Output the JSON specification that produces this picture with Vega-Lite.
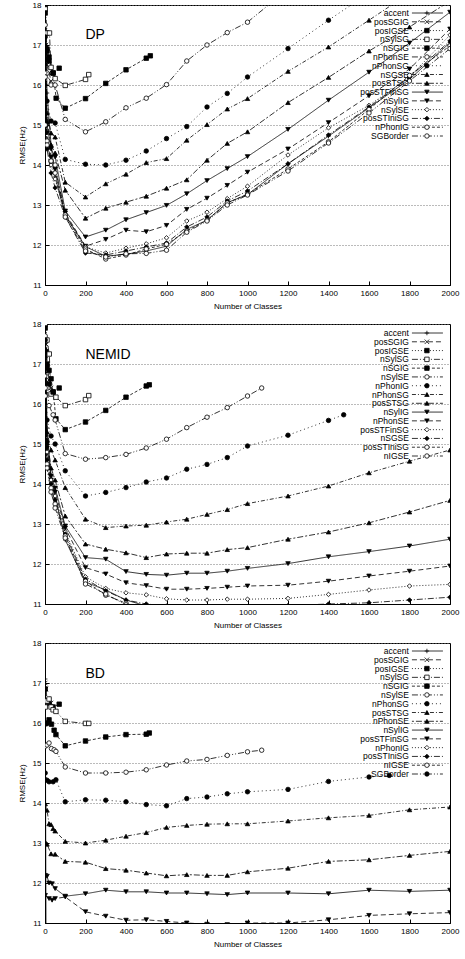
{
"$schema": "https://vega.github.io/schema/vega-lite/v6.json",
"padding": {"left": 17, "top": 0, "right": 4, "bottom": 2},
"config": {
  "font": "Liberation Sans",
  "view": {"stroke": "black", "strokeWidth": 1},
  "axis": {"labelFont": "Liberation Sans", "labelFontSize": 8, "titleFont": "Liberation Sans", "titleFontSize": 8, "titleFontWeight": "normal", "labelColor": "black", "titleColor": "black", "tickColor": "black", "tickSize": -4, "domainColor": "black", "labelPadding": 8, "labelFlush": false, "labelOverlap": false, "grid": false},
  "text": {"font": "Liberation Sans", "color": "black"}
},
"datasets": {"d": [
{"p":"DP","s":"accent","x":1,"y":18.2},{"p":"DP","s":"accent","x":10,"y":15.8},{"p":"DP","s":"accent","x":30,"y":14.5},{"p":"DP","s":"accent","x":50,"y":13.7},{"p":"DP","s":"accent","x":100,"y":12.75},{"p":"DP","s":"accent","x":200,"y":11.96},{"p":"DP","s":"accent","x":300,"y":11.72},{"p":"DP","s":"accent","x":400,"y":11.77},{"p":"DP","s":"accent","x":500,"y":11.85},{"p":"DP","s":"accent","x":600,"y":11.97},{"p":"DP","s":"accent","x":700,"y":12.39},{"p":"DP","s":"accent","x":800,"y":12.62},{"p":"DP","s":"accent","x":900,"y":13.06},{"p":"DP","s":"accent","x":1000,"y":13.26},{"p":"DP","s":"accent","x":1200,"y":14.03},{"p":"DP","s":"accent","x":1400,"y":14.72},{"p":"DP","s":"accent","x":1600,"y":15.43},{"p":"DP","s":"accent","x":1800,"y":16.14},{"p":"DP","s":"accent","x":2000,"y":17.06},
{"p":"DP","s":"posSGIG","x":1,"y":18.1},{"p":"DP","s":"posSGIG","x":5,"y":17.0},{"p":"DP","s":"posSGIG","x":10,"y":16.5},{"p":"DP","s":"posSGIG","x":20,"y":16.3},{"p":"DP","s":"posSGIG","x":30,"y":16.1},
{"p":"DP","s":"posIGSE","x":1,"y":18.0},{"p":"DP","s":"posIGSE","x":5,"y":17.3},{"p":"DP","s":"posIGSE","x":10,"y":16.9},{"p":"DP","s":"posIGSE","x":20,"y":16.6},{"p":"DP","s":"posIGSE","x":40,"y":16.3},{"p":"DP","s":"posIGSE","x":70,"y":16.42},
{"p":"DP","s":"nSylSG","x":1,"y":17.9},{"p":"DP","s":"nSylSG","x":10,"y":17.3},{"p":"DP","s":"nSylSG","x":22,"y":17.3},{"p":"DP","s":"nSylSG","x":30,"y":16.44},{"p":"DP","s":"nSylSG","x":50,"y":16.16},{"p":"DP","s":"nSylSG","x":100,"y":15.99},{"p":"DP","s":"nSylSG","x":200,"y":16.14},{"p":"DP","s":"nSylSG","x":216,"y":16.26},
{"p":"DP","s":"nSGIG","x":1,"y":17.8},{"p":"DP","s":"nSGIG","x":10,"y":16.85},{"p":"DP","s":"nSGIG","x":20,"y":16.7},{"p":"DP","s":"nSGIG","x":40,"y":16.3},{"p":"DP","s":"nSGIG","x":55,"y":15.67},{"p":"DP","s":"nSGIG","x":100,"y":15.42},{"p":"DP","s":"nSGIG","x":200,"y":15.66},{"p":"DP","s":"nSGIG","x":300,"y":16.04},{"p":"DP","s":"nSGIG","x":400,"y":16.38},{"p":"DP","s":"nSGIG","x":500,"y":16.67},{"p":"DP","s":"nSGIG","x":520,"y":16.73},
{"p":"DP","s":"nPhonSE","x":1,"y":17.5},{"p":"DP","s":"nPhonSE","x":10,"y":16.3},{"p":"DP","s":"nPhonSE","x":30,"y":16.0},{"p":"DP","s":"nPhonSE","x":50,"y":16.0},{"p":"DP","s":"nPhonSE","x":100,"y":15.14},{"p":"DP","s":"nPhonSE","x":200,"y":14.83},{"p":"DP","s":"nPhonSE","x":300,"y":15.08},{"p":"DP","s":"nPhonSE","x":400,"y":15.43},{"p":"DP","s":"nPhonSE","x":500,"y":15.67},{"p":"DP","s":"nPhonSE","x":600,"y":16.01},{"p":"DP","s":"nPhonSE","x":700,"y":16.6},{"p":"DP","s":"nPhonSE","x":800,"y":17.0},{"p":"DP","s":"nPhonSE","x":900,"y":17.31},{"p":"DP","s":"nPhonSE","x":1000,"y":17.57},{"p":"DP","s":"nPhonSE","x":1200,"y":18.4},
{"p":"DP","s":"nPhonSG","x":1,"y":17.2},{"p":"DP","s":"nPhonSG","x":10,"y":15.6},{"p":"DP","s":"nPhonSG","x":30,"y":15.1},{"p":"DP","s":"nPhonSG","x":50,"y":15.05},{"p":"DP","s":"nPhonSG","x":100,"y":14.14},{"p":"DP","s":"nPhonSG","x":200,"y":14.02},{"p":"DP","s":"nPhonSG","x":300,"y":14.0},{"p":"DP","s":"nPhonSG","x":400,"y":14.12},{"p":"DP","s":"nPhonSG","x":500,"y":14.35},{"p":"DP","s":"nPhonSG","x":600,"y":14.66},{"p":"DP","s":"nPhonSG","x":700,"y":14.96},{"p":"DP","s":"nPhonSG","x":800,"y":15.45},{"p":"DP","s":"nPhonSG","x":900,"y":15.79},{"p":"DP","s":"nPhonSG","x":1000,"y":16.2},{"p":"DP","s":"nPhonSG","x":1200,"y":16.91},{"p":"DP","s":"nPhonSG","x":1400,"y":17.62},{"p":"DP","s":"nPhonSG","x":1600,"y":18.3},
{"p":"DP","s":"nSGSE","x":1,"y":17.0},{"p":"DP","s":"nSGSE","x":10,"y":15.3},{"p":"DP","s":"nSGSE","x":30,"y":14.8},{"p":"DP","s":"nSGSE","x":50,"y":14.7},{"p":"DP","s":"nSGSE","x":100,"y":13.57},{"p":"DP","s":"nSGSE","x":200,"y":13.2},{"p":"DP","s":"nSGSE","x":300,"y":13.53},{"p":"DP","s":"nSGSE","x":400,"y":13.77},{"p":"DP","s":"nSGSE","x":500,"y":14.06},{"p":"DP","s":"nSGSE","x":600,"y":14.16},{"p":"DP","s":"nSGSE","x":700,"y":14.62},{"p":"DP","s":"nSGSE","x":800,"y":15.01},{"p":"DP","s":"nSGSE","x":900,"y":15.4},{"p":"DP","s":"nSGSE","x":1000,"y":15.66},{"p":"DP","s":"nSGSE","x":1200,"y":16.34},{"p":"DP","s":"nSGSE","x":1400,"y":16.95},{"p":"DP","s":"nSGSE","x":1600,"y":17.62},{"p":"DP","s":"nSGSE","x":1800,"y":18.3},
{"p":"DP","s":"posSTSG","x":1,"y":16.8},{"p":"DP","s":"posSTSG","x":10,"y":15.1},{"p":"DP","s":"posSTSG","x":30,"y":14.5},{"p":"DP","s":"posSTSG","x":50,"y":14.3},{"p":"DP","s":"posSTSG","x":100,"y":13.37},{"p":"DP","s":"posSTSG","x":200,"y":12.67},{"p":"DP","s":"posSTSG","x":300,"y":12.92},{"p":"DP","s":"posSTSG","x":400,"y":13.07},{"p":"DP","s":"posSTSG","x":500,"y":13.22},{"p":"DP","s":"posSTSG","x":600,"y":13.42},{"p":"DP","s":"posSTSG","x":700,"y":13.63},{"p":"DP","s":"posSTSG","x":800,"y":14.12},{"p":"DP","s":"posSTSG","x":900,"y":14.54},{"p":"DP","s":"posSTSG","x":1000,"y":14.83},{"p":"DP","s":"posSTSG","x":1200,"y":15.56},{"p":"DP","s":"posSTSG","x":1400,"y":16.19},{"p":"DP","s":"posSTSG","x":1600,"y":16.85},{"p":"DP","s":"posSTSG","x":1800,"y":17.45},{"p":"DP","s":"posSTSG","x":2000,"y":18.1},
{"p":"DP","s":"posSTFinSG","x":1,"y":16.6},{"p":"DP","s":"posSTFinSG","x":10,"y":15.0},{"p":"DP","s":"posSTFinSG","x":30,"y":14.4},{"p":"DP","s":"posSTFinSG","x":50,"y":14.2},{"p":"DP","s":"posSTFinSG","x":100,"y":12.85},{"p":"DP","s":"posSTFinSG","x":200,"y":12.2},{"p":"DP","s":"posSTFinSG","x":300,"y":12.37},{"p":"DP","s":"posSTFinSG","x":400,"y":12.63},{"p":"DP","s":"posSTFinSG","x":500,"y":12.81},{"p":"DP","s":"posSTFinSG","x":600,"y":12.99},{"p":"DP","s":"posSTFinSG","x":700,"y":13.28},{"p":"DP","s":"posSTFinSG","x":800,"y":13.61},{"p":"DP","s":"posSTFinSG","x":900,"y":13.91},{"p":"DP","s":"posSTFinSG","x":1000,"y":14.21},{"p":"DP","s":"posSTFinSG","x":1200,"y":14.89},{"p":"DP","s":"posSTFinSG","x":1400,"y":15.62},{"p":"DP","s":"posSTFinSG","x":1600,"y":16.32},{"p":"DP","s":"posSTFinSG","x":1800,"y":17.05},{"p":"DP","s":"posSTFinSG","x":2000,"y":17.82},
{"p":"DP","s":"nSylIG","x":1,"y":16.5},{"p":"DP","s":"nSylIG","x":10,"y":14.8},{"p":"DP","s":"nSylIG","x":30,"y":14.2},{"p":"DP","s":"nSylIG","x":50,"y":13.9},{"p":"DP","s":"nSylIG","x":100,"y":12.8},{"p":"DP","s":"nSylIG","x":200,"y":11.97},{"p":"DP","s":"nSylIG","x":300,"y":12.14},{"p":"DP","s":"nSylIG","x":400,"y":12.37},{"p":"DP","s":"nSylIG","x":500,"y":12.33},{"p":"DP","s":"nSylIG","x":600,"y":12.49},{"p":"DP","s":"nSylIG","x":700,"y":12.89},{"p":"DP","s":"nSylIG","x":800,"y":13.17},{"p":"DP","s":"nSylIG","x":900,"y":13.49},{"p":"DP","s":"nSylIG","x":1000,"y":13.82},{"p":"DP","s":"nSylIG","x":1200,"y":14.4},{"p":"DP","s":"nSylIG","x":1400,"y":15.06},{"p":"DP","s":"nSylIG","x":1600,"y":15.73},{"p":"DP","s":"nSylIG","x":1800,"y":16.4},{"p":"DP","s":"nSylIG","x":2000,"y":17.4},
{"p":"DP","s":"nSylSE","x":1,"y":16.3},{"p":"DP","s":"nSylSE","x":10,"y":14.6},{"p":"DP","s":"nSylSE","x":30,"y":14.0},{"p":"DP","s":"nSylSE","x":50,"y":13.65},{"p":"DP","s":"nSylSE","x":100,"y":12.75},{"p":"DP","s":"nSylSE","x":200,"y":11.95},{"p":"DP","s":"nSylSE","x":300,"y":11.8},{"p":"DP","s":"nSylSE","x":400,"y":11.92},{"p":"DP","s":"nSylSE","x":500,"y":12.03},{"p":"DP","s":"nSylSE","x":600,"y":12.18},{"p":"DP","s":"nSylSE","x":700,"y":12.6},{"p":"DP","s":"nSylSE","x":800,"y":12.82},{"p":"DP","s":"nSylSE","x":900,"y":13.16},{"p":"DP","s":"nSylSE","x":1000,"y":13.47},{"p":"DP","s":"nSylSE","x":1200,"y":14.25},{"p":"DP","s":"nSylSE","x":1400,"y":14.93},{"p":"DP","s":"nSylSE","x":1600,"y":15.49},{"p":"DP","s":"nSylSE","x":1800,"y":16.2},{"p":"DP","s":"nSylSE","x":2000,"y":17.25},
{"p":"DP","s":"posSTIniSG","x":1,"y":16.0},{"p":"DP","s":"posSTIniSG","x":10,"y":14.4},{"p":"DP","s":"posSTIniSG","x":30,"y":13.8},{"p":"DP","s":"posSTIniSG","x":50,"y":13.43},{"p":"DP","s":"posSTIniSG","x":100,"y":12.7},{"p":"DP","s":"posSTIniSG","x":200,"y":11.8},{"p":"DP","s":"posSTIniSG","x":300,"y":11.75},{"p":"DP","s":"posSTIniSG","x":400,"y":11.85},{"p":"DP","s":"posSTIniSG","x":500,"y":11.95},{"p":"DP","s":"posSTIniSG","x":600,"y":12.05},{"p":"DP","s":"posSTIniSG","x":700,"y":12.45},{"p":"DP","s":"posSTIniSG","x":800,"y":12.7},{"p":"DP","s":"posSTIniSG","x":900,"y":13.1},{"p":"DP","s":"posSTIniSG","x":1000,"y":13.35},{"p":"DP","s":"posSTIniSG","x":1200,"y":14.03},{"p":"DP","s":"posSTIniSG","x":1400,"y":14.75},{"p":"DP","s":"posSTIniSG","x":1600,"y":15.45},{"p":"DP","s":"posSTIniSG","x":1800,"y":16.2},{"p":"DP","s":"posSTIniSG","x":2000,"y":17.1},
{"p":"DP","s":"nPhonIG","x":1,"y":16.2},{"p":"DP","s":"nPhonIG","x":10,"y":14.6},{"p":"DP","s":"nPhonIG","x":30,"y":14.1},{"p":"DP","s":"nPhonIG","x":50,"y":13.8},{"p":"DP","s":"nPhonIG","x":100,"y":12.75},{"p":"DP","s":"nPhonIG","x":200,"y":11.9},{"p":"DP","s":"nPhonIG","x":300,"y":11.65},{"p":"DP","s":"nPhonIG","x":400,"y":11.75},{"p":"DP","s":"nPhonIG","x":500,"y":11.9},{"p":"DP","s":"nPhonIG","x":600,"y":12.02},{"p":"DP","s":"nPhonIG","x":700,"y":12.35},{"p":"DP","s":"nPhonIG","x":800,"y":12.62},{"p":"DP","s":"nPhonIG","x":900,"y":13.05},{"p":"DP","s":"nPhonIG","x":1000,"y":13.27},{"p":"DP","s":"nPhonIG","x":1200,"y":13.9},{"p":"DP","s":"nPhonIG","x":1400,"y":14.58},{"p":"DP","s":"nPhonIG","x":1600,"y":15.39},{"p":"DP","s":"nPhonIG","x":1800,"y":16.24},{"p":"DP","s":"nPhonIG","x":2000,"y":16.98},
{"p":"DP","s":"SGBorder","x":1,"y":15.0},{"p":"DP","s":"SGBorder","x":10,"y":14.5},{"p":"DP","s":"SGBorder","x":30,"y":14.1},{"p":"DP","s":"SGBorder","x":50,"y":14.0},{"p":"DP","s":"SGBorder","x":100,"y":12.7},{"p":"DP","s":"SGBorder","x":200,"y":11.85},{"p":"DP","s":"SGBorder","x":300,"y":11.7},{"p":"DP","s":"SGBorder","x":400,"y":11.78},{"p":"DP","s":"SGBorder","x":500,"y":11.79},{"p":"DP","s":"SGBorder","x":600,"y":11.87},{"p":"DP","s":"SGBorder","x":700,"y":12.32},{"p":"DP","s":"SGBorder","x":800,"y":12.6},{"p":"DP","s":"SGBorder","x":900,"y":13.0},{"p":"DP","s":"SGBorder","x":1000,"y":13.25},{"p":"DP","s":"SGBorder","x":1200,"y":13.85},{"p":"DP","s":"SGBorder","x":1400,"y":14.55},{"p":"DP","s":"SGBorder","x":1600,"y":15.3},{"p":"DP","s":"SGBorder","x":1800,"y":16.1},{"p":"DP","s":"SGBorder","x":2000,"y":16.91},

{"p":"NEMID","s":"accent","x":1,"y":18.3},{"p":"NEMID","s":"accent","x":10,"y":15.4},{"p":"NEMID","s":"accent","x":30,"y":14.2},{"p":"NEMID","s":"accent","x":50,"y":13.7},{"p":"NEMID","s":"accent","x":100,"y":12.6},{"p":"NEMID","s":"accent","x":200,"y":11.55},{"p":"NEMID","s":"accent","x":300,"y":11.35},{"p":"NEMID","s":"accent","x":400,"y":11.1},{"p":"NEMID","s":"accent","x":500,"y":10.95},{"p":"NEMID","s":"accent","x":600,"y":10.85},{"p":"NEMID","s":"accent","x":800,"y":10.8},{"p":"NEMID","s":"accent","x":1000,"y":10.75},{"p":"NEMID","s":"accent","x":2000,"y":10.7},
{"p":"NEMID","s":"posSGIG","x":1,"y":18.2},{"p":"NEMID","s":"posSGIG","x":5,"y":17.5},{"p":"NEMID","s":"posSGIG","x":10,"y":17.0},{"p":"NEMID","s":"posSGIG","x":20,"y":16.6},{"p":"NEMID","s":"posSGIG","x":30,"y":16.4},
{"p":"NEMID","s":"posIGSE","x":1,"y":18.1},{"p":"NEMID","s":"posIGSE","x":5,"y":17.3},{"p":"NEMID","s":"posIGSE","x":10,"y":16.9},{"p":"NEMID","s":"posIGSE","x":20,"y":16.5},{"p":"NEMID","s":"posIGSE","x":40,"y":16.3},{"p":"NEMID","s":"posIGSE","x":70,"y":16.4},
{"p":"NEMID","s":"nSylSG","x":1,"y":18.0},{"p":"NEMID","s":"nSylSG","x":10,"y":17.6},{"p":"NEMID","s":"nSylSG","x":21,"y":17.25},{"p":"NEMID","s":"nSylSG","x":30,"y":16.25},{"p":"NEMID","s":"nSylSG","x":54,"y":16.17},{"p":"NEMID","s":"nSylSG","x":100,"y":15.96},{"p":"NEMID","s":"nSylSG","x":200,"y":16.11},{"p":"NEMID","s":"nSylSG","x":216,"y":16.21},
{"p":"NEMID","s":"nSGIG","x":1,"y":17.9},{"p":"NEMID","s":"nSGIG","x":10,"y":17.0},{"p":"NEMID","s":"nSGIG","x":20,"y":16.84},{"p":"NEMID","s":"nSGIG","x":30,"y":16.63},{"p":"NEMID","s":"nSGIG","x":40,"y":16.3},{"p":"NEMID","s":"nSGIG","x":54,"y":15.63},{"p":"NEMID","s":"nSGIG","x":100,"y":15.36},{"p":"NEMID","s":"nSGIG","x":200,"y":15.55},{"p":"NEMID","s":"nSGIG","x":300,"y":15.84},{"p":"NEMID","s":"nSGIG","x":400,"y":16.17},{"p":"NEMID","s":"nSGIG","x":500,"y":16.45},{"p":"NEMID","s":"nSGIG","x":515,"y":16.48},
{"p":"NEMID","s":"nSylSE","x":1,"y":17.7},{"p":"NEMID","s":"nSylSE","x":10,"y":16.4},{"p":"NEMID","s":"nSylSE","x":20,"y":15.96},{"p":"NEMID","s":"nSylSE","x":40,"y":15.73},{"p":"NEMID","s":"nSylSE","x":50,"y":15.6},{"p":"NEMID","s":"nSylSE","x":100,"y":14.76},{"p":"NEMID","s":"nSylSE","x":200,"y":14.62},{"p":"NEMID","s":"nSylSE","x":300,"y":14.66},{"p":"NEMID","s":"nSylSE","x":400,"y":14.74},{"p":"NEMID","s":"nSylSE","x":500,"y":14.9},{"p":"NEMID","s":"nSylSE","x":600,"y":15.12},{"p":"NEMID","s":"nSylSE","x":700,"y":15.41},{"p":"NEMID","s":"nSylSE","x":800,"y":15.67},{"p":"NEMID","s":"nSylSE","x":900,"y":15.91},{"p":"NEMID","s":"nSylSE","x":1000,"y":16.2},{"p":"NEMID","s":"nSylSE","x":1070,"y":16.4},
{"p":"NEMID","s":"nPhonIG","x":1,"y":17.6},{"p":"NEMID","s":"nPhonIG","x":10,"y":15.6},{"p":"NEMID","s":"nPhonIG","x":30,"y":15.2},{"p":"NEMID","s":"nPhonIG","x":50,"y":15.0},{"p":"NEMID","s":"nPhonIG","x":100,"y":14.33},{"p":"NEMID","s":"nPhonIG","x":200,"y":13.7},{"p":"NEMID","s":"nPhonIG","x":300,"y":13.79},{"p":"NEMID","s":"nPhonIG","x":400,"y":13.91},{"p":"NEMID","s":"nPhonIG","x":500,"y":14.05},{"p":"NEMID","s":"nPhonIG","x":600,"y":14.15},{"p":"NEMID","s":"nPhonIG","x":700,"y":14.37},{"p":"NEMID","s":"nPhonIG","x":800,"y":14.49},{"p":"NEMID","s":"nPhonIG","x":900,"y":14.66},{"p":"NEMID","s":"nPhonIG","x":1000,"y":14.95},{"p":"NEMID","s":"nPhonIG","x":1200,"y":15.22},{"p":"NEMID","s":"nPhonIG","x":1400,"y":15.59},{"p":"NEMID","s":"nPhonIG","x":1475,"y":15.73},
{"p":"NEMID","s":"nPhonSG","x":1,"y":17.4},{"p":"NEMID","s":"nPhonSG","x":10,"y":15.3},{"p":"NEMID","s":"nPhonSG","x":30,"y":14.85},{"p":"NEMID","s":"nPhonSG","x":50,"y":14.6},{"p":"NEMID","s":"nPhonSG","x":100,"y":13.91},{"p":"NEMID","s":"nPhonSG","x":200,"y":13.12},{"p":"NEMID","s":"nPhonSG","x":300,"y":12.91},{"p":"NEMID","s":"nPhonSG","x":400,"y":12.95},{"p":"NEMID","s":"nPhonSG","x":500,"y":12.97},{"p":"NEMID","s":"nPhonSG","x":600,"y":13.05},{"p":"NEMID","s":"nPhonSG","x":700,"y":13.12},{"p":"NEMID","s":"nPhonSG","x":800,"y":13.24},{"p":"NEMID","s":"nPhonSG","x":900,"y":13.36},{"p":"NEMID","s":"nPhonSG","x":1000,"y":13.51},{"p":"NEMID","s":"nPhonSG","x":1200,"y":13.7},{"p":"NEMID","s":"nPhonSG","x":1400,"y":13.95},{"p":"NEMID","s":"nPhonSG","x":1600,"y":14.28},{"p":"NEMID","s":"nPhonSG","x":1800,"y":14.57},{"p":"NEMID","s":"nPhonSG","x":2000,"y":14.85},
{"p":"NEMID","s":"posSTSG","x":1,"y":17.2},{"p":"NEMID","s":"posSTSG","x":10,"y":15.1},{"p":"NEMID","s":"posSTSG","x":30,"y":14.4},{"p":"NEMID","s":"posSTSG","x":50,"y":14.1},{"p":"NEMID","s":"posSTSG","x":100,"y":13.2},{"p":"NEMID","s":"posSTSG","x":200,"y":12.5},{"p":"NEMID","s":"posSTSG","x":300,"y":12.37},{"p":"NEMID","s":"posSTSG","x":400,"y":12.28},{"p":"NEMID","s":"posSTSG","x":500,"y":12.16},{"p":"NEMID","s":"posSTSG","x":600,"y":12.25},{"p":"NEMID","s":"posSTSG","x":700,"y":12.27},{"p":"NEMID","s":"posSTSG","x":800,"y":12.27},{"p":"NEMID","s":"posSTSG","x":900,"y":12.36},{"p":"NEMID","s":"posSTSG","x":1000,"y":12.41},{"p":"NEMID","s":"posSTSG","x":1200,"y":12.62},{"p":"NEMID","s":"posSTSG","x":1400,"y":12.8},{"p":"NEMID","s":"posSTSG","x":1600,"y":13.03},{"p":"NEMID","s":"posSTSG","x":1800,"y":13.3},{"p":"NEMID","s":"posSTSG","x":2000,"y":13.59},
{"p":"NEMID","s":"nSylIG","x":1,"y":17.0},{"p":"NEMID","s":"nSylIG","x":10,"y":15.0},{"p":"NEMID","s":"nSylIG","x":30,"y":14.2},{"p":"NEMID","s":"nSylIG","x":50,"y":13.9},{"p":"NEMID","s":"nSylIG","x":100,"y":12.95},{"p":"NEMID","s":"nSylIG","x":200,"y":12.16},{"p":"NEMID","s":"nSylIG","x":300,"y":12.12},{"p":"NEMID","s":"nSylIG","x":400,"y":11.81},{"p":"NEMID","s":"nSylIG","x":500,"y":11.74},{"p":"NEMID","s":"nSylIG","x":600,"y":11.72},{"p":"NEMID","s":"nSylIG","x":700,"y":11.77},{"p":"NEMID","s":"nSylIG","x":800,"y":11.77},{"p":"NEMID","s":"nSylIG","x":900,"y":11.82},{"p":"NEMID","s":"nSylIG","x":1000,"y":11.89},{"p":"NEMID","s":"nSylIG","x":1200,"y":12.01},{"p":"NEMID","s":"nSylIG","x":1400,"y":12.18},{"p":"NEMID","s":"nSylIG","x":1600,"y":12.31},{"p":"NEMID","s":"nSylIG","x":1800,"y":12.45},{"p":"NEMID","s":"nSylIG","x":2000,"y":12.62},
{"p":"NEMID","s":"nPhonSE","x":1,"y":16.9},{"p":"NEMID","s":"nPhonSE","x":10,"y":14.9},{"p":"NEMID","s":"nPhonSE","x":30,"y":14.1},{"p":"NEMID","s":"nPhonSE","x":50,"y":13.8},{"p":"NEMID","s":"nPhonSE","x":100,"y":12.9},{"p":"NEMID","s":"nPhonSE","x":200,"y":11.91},{"p":"NEMID","s":"nPhonSE","x":300,"y":11.75},{"p":"NEMID","s":"nPhonSE","x":400,"y":11.53},{"p":"NEMID","s":"nPhonSE","x":500,"y":11.46},{"p":"NEMID","s":"nPhonSE","x":600,"y":11.37},{"p":"NEMID","s":"nPhonSE","x":700,"y":11.37},{"p":"NEMID","s":"nPhonSE","x":800,"y":11.39},{"p":"NEMID","s":"nPhonSE","x":900,"y":11.42},{"p":"NEMID","s":"nPhonSE","x":1000,"y":11.45},{"p":"NEMID","s":"nPhonSE","x":1200,"y":11.47},{"p":"NEMID","s":"nPhonSE","x":1400,"y":11.57},{"p":"NEMID","s":"nPhonSE","x":1600,"y":11.7},{"p":"NEMID","s":"nPhonSE","x":1800,"y":11.82},{"p":"NEMID","s":"nPhonSE","x":2000,"y":11.95},
{"p":"NEMID","s":"posSTFinSG","x":1,"y":16.7},{"p":"NEMID","s":"posSTFinSG","x":10,"y":14.8},{"p":"NEMID","s":"posSTFinSG","x":30,"y":14.1},{"p":"NEMID","s":"posSTFinSG","x":50,"y":13.7},{"p":"NEMID","s":"posSTFinSG","x":100,"y":12.8},{"p":"NEMID","s":"posSTFinSG","x":200,"y":11.68},{"p":"NEMID","s":"posSTFinSG","x":300,"y":11.39},{"p":"NEMID","s":"posSTFinSG","x":400,"y":11.28},{"p":"NEMID","s":"posSTFinSG","x":500,"y":11.23},{"p":"NEMID","s":"posSTFinSG","x":600,"y":11.13},{"p":"NEMID","s":"posSTFinSG","x":700,"y":11.1},{"p":"NEMID","s":"posSTFinSG","x":800,"y":11.1},{"p":"NEMID","s":"posSTFinSG","x":900,"y":11.12},{"p":"NEMID","s":"posSTFinSG","x":1000,"y":11.12},{"p":"NEMID","s":"posSTFinSG","x":1200,"y":11.14},{"p":"NEMID","s":"posSTFinSG","x":1400,"y":11.24},{"p":"NEMID","s":"posSTFinSG","x":1600,"y":11.35},{"p":"NEMID","s":"posSTFinSG","x":1800,"y":11.45},{"p":"NEMID","s":"posSTFinSG","x":2000,"y":11.49},
{"p":"NEMID","s":"nSGSE","x":1,"y":16.5},{"p":"NEMID","s":"nSGSE","x":10,"y":14.6},{"p":"NEMID","s":"nSGSE","x":30,"y":14.0},{"p":"NEMID","s":"nSGSE","x":50,"y":13.6},{"p":"NEMID","s":"nSGSE","x":100,"y":12.75},{"p":"NEMID","s":"nSGSE","x":200,"y":11.62},{"p":"NEMID","s":"nSGSE","x":300,"y":11.33},{"p":"NEMID","s":"nSGSE","x":400,"y":11.1},{"p":"NEMID","s":"nSGSE","x":500,"y":11.0},{"p":"NEMID","s":"nSGSE","x":600,"y":10.95},{"p":"NEMID","s":"nSGSE","x":800,"y":10.9},{"p":"NEMID","s":"nSGSE","x":1000,"y":10.92},{"p":"NEMID","s":"nSGSE","x":1200,"y":10.96},{"p":"NEMID","s":"nSGSE","x":1400,"y":11.0},{"p":"NEMID","s":"nSGSE","x":1600,"y":11.03},{"p":"NEMID","s":"nSGSE","x":1800,"y":11.1},{"p":"NEMID","s":"nSGSE","x":2000,"y":11.17},
{"p":"NEMID","s":"posSTIniSG","x":1,"y":16.4},{"p":"NEMID","s":"posSTIniSG","x":10,"y":14.5},{"p":"NEMID","s":"posSTIniSG","x":30,"y":13.9},{"p":"NEMID","s":"posSTIniSG","x":50,"y":13.5},{"p":"NEMID","s":"posSTIniSG","x":100,"y":12.7},{"p":"NEMID","s":"posSTIniSG","x":200,"y":11.57},{"p":"NEMID","s":"posSTIniSG","x":300,"y":11.22},{"p":"NEMID","s":"posSTIniSG","x":400,"y":11.02},{"p":"NEMID","s":"posSTIniSG","x":500,"y":10.85},{"p":"NEMID","s":"posSTIniSG","x":600,"y":10.7},{"p":"NEMID","s":"posSTIniSG","x":1000,"y":10.6},{"p":"NEMID","s":"posSTIniSG","x":2000,"y":10.6},
{"p":"NEMID","s":"nIGSE","x":1,"y":16.2},{"p":"NEMID","s":"nIGSE","x":10,"y":14.4},{"p":"NEMID","s":"nIGSE","x":30,"y":13.8},{"p":"NEMID","s":"nIGSE","x":50,"y":13.4},{"p":"NEMID","s":"nIGSE","x":100,"y":12.65},{"p":"NEMID","s":"nIGSE","x":200,"y":11.5},{"p":"NEMID","s":"nIGSE","x":300,"y":11.25},{"p":"NEMID","s":"nIGSE","x":400,"y":10.98},{"p":"NEMID","s":"nIGSE","x":500,"y":10.8},{"p":"NEMID","s":"nIGSE","x":600,"y":10.7},{"p":"NEMID","s":"nIGSE","x":1000,"y":10.6},{"p":"NEMID","s":"nIGSE","x":2000,"y":10.6},

{"p":"BD","s":"accent","x":1,"y":17.1},{"p":"BD","s":"accent","x":5,"y":10.8},{"p":"BD","s":"accent","x":100,"y":10.6},{"p":"BD","s":"accent","x":2000,"y":10.5},
{"p":"BD","s":"posSGIG","x":1,"y":17.0},{"p":"BD","s":"posSGIG","x":5,"y":16.85},{"p":"BD","s":"posSGIG","x":10,"y":16.6},{"p":"BD","s":"posSGIG","x":20,"y":16.55},{"p":"BD","s":"posSGIG","x":30,"y":16.5},
{"p":"BD","s":"posIGSE","x":1,"y":16.85},{"p":"BD","s":"posIGSE","x":10,"y":16.55},{"p":"BD","s":"posIGSE","x":20,"y":16.5},{"p":"BD","s":"posIGSE","x":40,"y":16.4},{"p":"BD","s":"posIGSE","x":70,"y":16.47},
{"p":"BD","s":"nSylSG","x":1,"y":16.4},{"p":"BD","s":"nSylSG","x":10,"y":16.55},{"p":"BD","s":"nSylSG","x":20,"y":16.6},{"p":"BD","s":"nSylSG","x":30,"y":16.4},{"p":"BD","s":"nSylSG","x":40,"y":16.33},{"p":"BD","s":"nSylSG","x":54,"y":16.29},{"p":"BD","s":"nSylSG","x":100,"y":16.04},{"p":"BD","s":"nSylSG","x":200,"y":15.99},{"p":"BD","s":"nSylSG","x":216,"y":15.99},
{"p":"BD","s":"nSGIG","x":1,"y":15.98},{"p":"BD","s":"nSGIG","x":10,"y":16.0},{"p":"BD","s":"nSGIG","x":20,"y":16.08},{"p":"BD","s":"nSGIG","x":32,"y":15.97},{"p":"BD","s":"nSGIG","x":45,"y":15.82},{"p":"BD","s":"nSGIG","x":54,"y":15.71},{"p":"BD","s":"nSGIG","x":100,"y":15.43},{"p":"BD","s":"nSGIG","x":200,"y":15.55},{"p":"BD","s":"nSGIG","x":300,"y":15.65},{"p":"BD","s":"nSGIG","x":400,"y":15.71},{"p":"BD","s":"nSGIG","x":500,"y":15.72},{"p":"BD","s":"nSGIG","x":515,"y":15.75},
{"p":"BD","s":"nSylSE","x":1,"y":15.42},{"p":"BD","s":"nSylSE","x":10,"y":15.45},{"p":"BD","s":"nSylSE","x":20,"y":15.5},{"p":"BD","s":"nSylSE","x":32,"y":15.36},{"p":"BD","s":"nSylSE","x":45,"y":15.33},{"p":"BD","s":"nSylSE","x":54,"y":15.29},{"p":"BD","s":"nSylSE","x":100,"y":14.9},{"p":"BD","s":"nSylSE","x":200,"y":14.75},{"p":"BD","s":"nSylSE","x":300,"y":14.75},{"p":"BD","s":"nSylSE","x":400,"y":14.77},{"p":"BD","s":"nSylSE","x":500,"y":14.83},{"p":"BD","s":"nSylSE","x":600,"y":14.95},{"p":"BD","s":"nSylSE","x":700,"y":15.05},{"p":"BD","s":"nSylSE","x":800,"y":15.09},{"p":"BD","s":"nSylSE","x":900,"y":15.19},{"p":"BD","s":"nSylSE","x":1000,"y":15.28},{"p":"BD","s":"nSylSE","x":1070,"y":15.32},
{"p":"BD","s":"nPhonSG","x":1,"y":14.75},{"p":"BD","s":"nPhonSG","x":10,"y":14.57},{"p":"BD","s":"nPhonSG","x":20,"y":14.53},{"p":"BD","s":"nPhonSG","x":40,"y":14.53},{"p":"BD","s":"nPhonSG","x":54,"y":14.58},{"p":"BD","s":"nPhonSG","x":100,"y":14.03},{"p":"BD","s":"nPhonSG","x":200,"y":14.08},{"p":"BD","s":"nPhonSG","x":300,"y":14.07},{"p":"BD","s":"nPhonSG","x":400,"y":14.03},{"p":"BD","s":"nPhonSG","x":500,"y":13.96},{"p":"BD","s":"nPhonSG","x":600,"y":13.93},{"p":"BD","s":"nPhonSG","x":700,"y":14.11},{"p":"BD","s":"nPhonSG","x":800,"y":14.15},{"p":"BD","s":"nPhonSG","x":900,"y":14.23},{"p":"BD","s":"nPhonSG","x":1000,"y":14.28},{"p":"BD","s":"nPhonSG","x":1200,"y":14.34},{"p":"BD","s":"nPhonSG","x":1400,"y":14.54},{"p":"BD","s":"nPhonSG","x":1600,"y":14.65},{"p":"BD","s":"nPhonSG","x":1700,"y":14.69},
{"p":"BD","s":"posSTSG","x":1,"y":13.98},{"p":"BD","s":"posSTSG","x":10,"y":13.82},{"p":"BD","s":"posSTSG","x":20,"y":13.48},{"p":"BD","s":"posSTSG","x":30,"y":13.46},{"p":"BD","s":"posSTSG","x":40,"y":13.36},{"p":"BD","s":"posSTSG","x":50,"y":13.3},{"p":"BD","s":"posSTSG","x":100,"y":13.04},{"p":"BD","s":"posSTSG","x":200,"y":13.0},{"p":"BD","s":"posSTSG","x":300,"y":13.07},{"p":"BD","s":"posSTSG","x":400,"y":13.17},{"p":"BD","s":"posSTSG","x":500,"y":13.26},{"p":"BD","s":"posSTSG","x":600,"y":13.39},{"p":"BD","s":"posSTSG","x":700,"y":13.44},{"p":"BD","s":"posSTSG","x":800,"y":13.47},{"p":"BD","s":"posSTSG","x":900,"y":13.48},{"p":"BD","s":"posSTSG","x":1000,"y":13.48},{"p":"BD","s":"posSTSG","x":1200,"y":13.55},{"p":"BD","s":"posSTSG","x":1400,"y":13.63},{"p":"BD","s":"posSTSG","x":1600,"y":13.69},{"p":"BD","s":"posSTSG","x":1800,"y":13.83},{"p":"BD","s":"posSTSG","x":2000,"y":13.9},
{"p":"BD","s":"nPhonSE","x":1,"y":13.03},{"p":"BD","s":"nPhonSE","x":10,"y":12.97},{"p":"BD","s":"nPhonSE","x":30,"y":12.73},{"p":"BD","s":"nPhonSE","x":50,"y":12.72},{"p":"BD","s":"nPhonSE","x":100,"y":12.54},{"p":"BD","s":"nPhonSE","x":200,"y":12.52},{"p":"BD","s":"nPhonSE","x":300,"y":12.36},{"p":"BD","s":"nPhonSE","x":400,"y":12.32},{"p":"BD","s":"nPhonSE","x":500,"y":12.25},{"p":"BD","s":"nPhonSE","x":600,"y":12.18},{"p":"BD","s":"nPhonSE","x":700,"y":12.21},{"p":"BD","s":"nPhonSE","x":800,"y":12.19},{"p":"BD","s":"nPhonSE","x":900,"y":12.19},{"p":"BD","s":"nPhonSE","x":1000,"y":12.28},{"p":"BD","s":"nPhonSE","x":1200,"y":12.37},{"p":"BD","s":"nPhonSE","x":1400,"y":12.54},{"p":"BD","s":"nPhonSE","x":1600,"y":12.58},{"p":"BD","s":"nPhonSE","x":1800,"y":12.69},{"p":"BD","s":"nPhonSE","x":2000,"y":12.79},
{"p":"BD","s":"nSylIG","x":1,"y":12.19},{"p":"BD","s":"nSylIG","x":10,"y":12.17},{"p":"BD","s":"nSylIG","x":20,"y":12.0},{"p":"BD","s":"nSylIG","x":35,"y":11.98},{"p":"BD","s":"nSylIG","x":50,"y":11.86},{"p":"BD","s":"nSylIG","x":100,"y":11.67},{"p":"BD","s":"nSylIG","x":200,"y":11.73},{"p":"BD","s":"nSylIG","x":300,"y":11.82},{"p":"BD","s":"nSylIG","x":400,"y":11.78},{"p":"BD","s":"nSylIG","x":500,"y":11.78},{"p":"BD","s":"nSylIG","x":600,"y":11.75},{"p":"BD","s":"nSylIG","x":700,"y":11.75},{"p":"BD","s":"nSylIG","x":800,"y":11.73},{"p":"BD","s":"nSylIG","x":900,"y":11.71},{"p":"BD","s":"nSylIG","x":1000,"y":11.75},{"p":"BD","s":"nSylIG","x":1200,"y":11.75},{"p":"BD","s":"nSylIG","x":1400,"y":11.73},{"p":"BD","s":"nSylIG","x":1600,"y":11.82},{"p":"BD","s":"nSylIG","x":1800,"y":11.79},{"p":"BD","s":"nSylIG","x":2000,"y":11.82},
{"p":"BD","s":"posSTFinSG","x":1,"y":11.69},{"p":"BD","s":"posSTFinSG","x":20,"y":11.61},{"p":"BD","s":"posSTFinSG","x":35,"y":11.57},{"p":"BD","s":"posSTFinSG","x":50,"y":11.61},{"p":"BD","s":"posSTFinSG","x":100,"y":11.65},{"p":"BD","s":"posSTFinSG","x":200,"y":11.28},{"p":"BD","s":"posSTFinSG","x":300,"y":11.17},{"p":"BD","s":"posSTFinSG","x":400,"y":11.07},{"p":"BD","s":"posSTFinSG","x":500,"y":11.08},{"p":"BD","s":"posSTFinSG","x":600,"y":11.04},{"p":"BD","s":"posSTFinSG","x":700,"y":11.0},{"p":"BD","s":"posSTFinSG","x":800,"y":10.97},{"p":"BD","s":"posSTFinSG","x":900,"y":10.96},{"p":"BD","s":"posSTFinSG","x":1000,"y":11.0},{"p":"BD","s":"posSTFinSG","x":1200,"y":11.0},{"p":"BD","s":"posSTFinSG","x":1400,"y":11.08},{"p":"BD","s":"posSTFinSG","x":1600,"y":11.19},{"p":"BD","s":"posSTFinSG","x":1800,"y":11.23},{"p":"BD","s":"posSTFinSG","x":2000,"y":11.26},
{"p":"BD","s":"nPhonIG","x":1,"y":10.9},{"p":"BD","s":"nPhonIG","x":2000,"y":10.6},
{"p":"BD","s":"posSTIniSG","x":1,"y":10.85},{"p":"BD","s":"posSTIniSG","x":2000,"y":10.55},
{"p":"BD","s":"nIGSE","x":1,"y":10.8},{"p":"BD","s":"nIGSE","x":2000,"y":10.5},
{"p":"BD","s":"SGBorder","x":1,"y":10.75},{"p":"BD","s":"SGBorder","x":2000,"y":10.45}
],
"k": [
{"p":"DP","s":"accent"},{"p":"DP","s":"posSGIG"},{"p":"DP","s":"posIGSE"},{"p":"DP","s":"nSylSG"},{"p":"DP","s":"nSGIG"},{"p":"DP","s":"nPhonSE"},{"p":"DP","s":"nPhonSG"},{"p":"DP","s":"nSGSE"},{"p":"DP","s":"posSTSG"},{"p":"DP","s":"posSTFinSG"},{"p":"DP","s":"nSylIG"},{"p":"DP","s":"nSylSE"},{"p":"DP","s":"posSTIniSG"},{"p":"DP","s":"nPhonIG"},{"p":"DP","s":"SGBorder"},
{"p":"NEMID","s":"accent"},{"p":"NEMID","s":"posSGIG"},{"p":"NEMID","s":"posIGSE"},{"p":"NEMID","s":"nSylSG"},{"p":"NEMID","s":"nSGIG"},{"p":"NEMID","s":"nSylSE"},{"p":"NEMID","s":"nPhonIG"},{"p":"NEMID","s":"nPhonSG"},{"p":"NEMID","s":"posSTSG"},{"p":"NEMID","s":"nSylIG"},{"p":"NEMID","s":"nPhonSE"},{"p":"NEMID","s":"posSTFinSG"},{"p":"NEMID","s":"nSGSE"},{"p":"NEMID","s":"posSTIniSG"},{"p":"NEMID","s":"nIGSE"},
{"p":"BD","s":"accent"},{"p":"BD","s":"posSGIG"},{"p":"BD","s":"posIGSE"},{"p":"BD","s":"nSylSG"},{"p":"BD","s":"nSGIG"},{"p":"BD","s":"nSylSE"},{"p":"BD","s":"nPhonSG"},{"p":"BD","s":"posSTSG"},{"p":"BD","s":"nPhonSE"},{"p":"BD","s":"nSylIG"},{"p":"BD","s":"posSTFinSG"},{"p":"BD","s":"nPhonIG"},{"p":"BD","s":"posSTIniSG"},{"p":"BD","s":"nIGSE"},{"p":"BD","s":"SGBorder"}
]},
"vconcat": [
{
 "width": 405, "height": 280,
 "layer": [
  {"layer": [
   {"data": {"name": "d"}, "transform": [{"filter": "datum.p === 'DP'"}],
    "mark": {"type": "line", "clip": true, "strokeWidth": 0.8, "color": "black"},
    "encoding": {
     "x": {"field": "x", "type": "quantitative", "scale": {"domain": [0, 2000], "nice": false}, "axis": {"values": [0,200,400,600,800,1000,1200,1400,1600,1800,2000], "format": "d", "title": "Number of Classes", "titlePadding": 5}},
     "y": {"field": "y", "type": "quantitative", "scale": {"domain": [11, 18], "nice": false, "zero": false}, "axis": {"values": [11,12,13,14,15,16,17,18], "tickCount": 8, "format": "d", "title": "RMSE(Hz)", "grid": true, "gridDash": [1,2], "gridColor": "#777", "labelOverlap": false, "titlePadding": 6}},
     "strokeDash": {"field": "s", "type": "nominal", "legend": null, "scale": {"domain": ["accent","posSGIG","posIGSE","nSylSG","nSGIG","nPhonSE","nPhonSG","nSGSE","posSTSG","posSTFinSG","nSylIG","nSylSE","posSTIniSG","nPhonIG","SGBorder"], "range": [[1,0],[5,3],[1,2],[6,2,1,2],[3,2],[6,2,1,2,1,2],[1,3],[4,2,1,2],[2,2,6,2],[1,0],[5,3],[1,2],[6,2,1,2],[3,2],[6,2,1,2,1,2]]}}
    }},
   {"data": {"name": "d"}, "transform": [{"filter": "datum.p === 'DP'"}],
    "mark": {"type": "point", "clip": true, "stroke": "black", "strokeWidth": 0.8, "opacity": 1, "size": 20},
    "encoding": {
     "x": {"field": "x", "type": "quantitative"},
     "y": {"field": "y", "type": "quantitative"},
     "shape": {"field": "s", "type": "nominal", "legend": null, "scale": {"domain": ["accent","posSGIG","posIGSE","nSylSG","nSGIG","nPhonSE","nPhonSG","nSGSE","posSTSG","posSTFinSG","nSylIG","nSylSE","posSTIniSG","nPhonIG","SGBorder"], "range": ["M-1,0L1,0M0,-1L0,1","M-1,-1L1,1M-1,1L1,-1","square","square","square","circle","circle","triangle-up","triangle-up","triangle-down","triangle-down","diamond","diamond","circle","circle"]}},
     "fill": {"field": "s", "type": "nominal", "legend": null, "scale": {"domain": ["accent","posSGIG","posIGSE","nSylSG","nSGIG","nPhonSE","nPhonSG","nSGSE","posSTSG","posSTFinSG","nSylIG","nSylSE","posSTIniSG","nPhonIG","SGBorder"], "range": ["black","black","black","white","black","white","black","black","black","black","black","white","black","white","white"]}}
    }},
   {"data": {"values": [{}]},
    "mark": {"type": "text", "align": "left", "baseline": "middle", "fontSize": 14},
    "encoding": {"x": {"datum": 200, "type": "quantitative"}, "y": {"datum": 17.25, "type": "quantitative"}, "text": {"value": "DP"}}}
  ]},
  {"data": {"name": "k"}, "transform": [{"filter": "datum.p === 'DP'"}],
   "layer": [
    {"mark": {"type": "text", "align": "right", "baseline": "middle", "fontSize": 8.5},
     "encoding": {"x": {"datum": 1797, "type": "quantitative"}, "y": {"field": "s", "type": "nominal", "axis": {"orient": "right", "labels": false, "ticks": false, "domain": false, "grid": false, "title": null}, "scale": {"type": "point", "domain": ["accent","posSGIG","posIGSE","nSylSG","nSGIG","nPhonSE","nPhonSG","nSGSE","posSTSG","posSTFinSG","nSylIG","nSylSE","posSTIniSG","nPhonIG","SGBorder"], "range": [8, 131], "padding": 0}}, "text": {"field": "s"}}},
    {"mark": {"type": "rule", "strokeWidth": 0.8, "color": "black"},
     "encoding": {"x": {"datum": 1812, "type": "quantitative"}, "x2": {"datum": 1965}, "y": {"field": "s", "type": "nominal", "axis": {"orient": "right", "labels": false, "ticks": false, "domain": false, "grid": false, "title": null}, "scale": {"type": "point", "domain": ["accent","posSGIG","posIGSE","nSylSG","nSGIG","nPhonSE","nPhonSG","nSGSE","posSTSG","posSTFinSG","nSylIG","nSylSE","posSTIniSG","nPhonIG","SGBorder"], "range": [8, 131], "padding": 0}},
      "strokeDash": {"field": "s", "type": "nominal", "legend": null, "scale": {"domain": ["accent","posSGIG","posIGSE","nSylSG","nSGIG","nPhonSE","nPhonSG","nSGSE","posSTSG","posSTFinSG","nSylIG","nSylSE","posSTIniSG","nPhonIG","SGBorder"], "range": [[1,0],[5,3],[1,2],[6,2,1,2],[3,2],[6,2,1,2,1,2],[1,3],[4,2,1,2],[2,2,6,2],[1,0],[5,3],[1,2],[6,2,1,2],[3,2],[6,2,1,2,1,2]]}}}},
    {"mark": {"type": "point", "stroke": "black", "strokeWidth": 0.8, "opacity": 1, "size": 20},
     "encoding": {"x": {"datum": 1886, "type": "quantitative"}, "y": {"field": "s", "type": "nominal", "axis": {"orient": "right", "labels": false, "ticks": false, "domain": false, "grid": false, "title": null}, "scale": {"type": "point", "domain": ["accent","posSGIG","posIGSE","nSylSG","nSGIG","nPhonSE","nPhonSG","nSGSE","posSTSG","posSTFinSG","nSylIG","nSylSE","posSTIniSG","nPhonIG","SGBorder"], "range": [8, 131], "padding": 0}},
      "shape": {"field": "s", "type": "nominal", "legend": null, "scale": {"domain": ["accent","posSGIG","posIGSE","nSylSG","nSGIG","nPhonSE","nPhonSG","nSGSE","posSTSG","posSTFinSG","nSylIG","nSylSE","posSTIniSG","nPhonIG","SGBorder"], "range": ["M-1,0L1,0M0,-1L0,1","M-1,-1L1,1M-1,1L1,-1","square","square","square","circle","circle","triangle-up","triangle-up","triangle-down","triangle-down","diamond","diamond","circle","circle"]}},
      "fill": {"field": "s", "type": "nominal", "legend": null, "scale": {"domain": ["accent","posSGIG","posIGSE","nSylSG","nSGIG","nPhonSE","nPhonSG","nSGSE","posSTSG","posSTFinSG","nSylIG","nSylSE","posSTIniSG","nPhonIG","SGBorder"], "range": ["black","black","black","white","black","white","black","black","black","black","black","white","black","white","white"]}}}}
   ]}
 ],
 "resolve": {"scale": {"y": "independent"}}
},
{
 "width": 405, "height": 280,
 "layer": [
  {"layer": [
   {"data": {"name": "d"}, "transform": [{"filter": "datum.p === 'NEMID'"}],
    "mark": {"type": "line", "clip": true, "strokeWidth": 0.8, "color": "black"},
    "encoding": {
     "x": {"field": "x", "type": "quantitative", "scale": {"domain": [0, 2000], "nice": false}, "axis": {"values": [0,200,400,600,800,1000,1200,1400,1600,1800,2000], "format": "d", "title": "Number of Classes", "titlePadding": 5}},
     "y": {"field": "y", "type": "quantitative", "scale": {"domain": [11, 18], "nice": false, "zero": false}, "axis": {"values": [11,12,13,14,15,16,17,18], "tickCount": 8, "format": "d", "title": "RMSE(Hz)", "grid": true, "gridDash": [1,2], "gridColor": "#777", "labelOverlap": false, "titlePadding": 6}},
     "strokeDash": {"field": "s", "type": "nominal", "legend": null, "scale": {"domain": ["accent","posSGIG","posIGSE","nSylSG","nSGIG","nSylSE","nPhonIG","nPhonSG","posSTSG","nSylIG","nPhonSE","posSTFinSG","nSGSE","posSTIniSG","nIGSE"], "range": [[1,0],[5,3],[1,2],[6,2,1,2],[3,2],[6,2,1,2,1,2],[1,3],[4,2,1,2],[2,2,6,2],[1,0],[5,3],[1,2],[6,2,1,2],[3,2],[6,2,1,2,1,2]]}}
    }},
   {"data": {"name": "d"}, "transform": [{"filter": "datum.p === 'NEMID'"}],
    "mark": {"type": "point", "clip": true, "stroke": "black", "strokeWidth": 0.8, "opacity": 1, "size": 20},
    "encoding": {
     "x": {"field": "x", "type": "quantitative"},
     "y": {"field": "y", "type": "quantitative"},
     "shape": {"field": "s", "type": "nominal", "legend": null, "scale": {"domain": ["accent","posSGIG","posIGSE","nSylSG","nSGIG","nSylSE","nPhonIG","nPhonSG","posSTSG","nSylIG","nPhonSE","posSTFinSG","nSGSE","posSTIniSG","nIGSE"], "range": ["M-1,0L1,0M0,-1L0,1","M-1,-1L1,1M-1,1L1,-1","square","square","square","circle","circle","triangle-up","triangle-up","triangle-down","triangle-down","diamond","diamond","circle","circle"]}},
     "fill": {"field": "s", "type": "nominal", "legend": null, "scale": {"domain": ["accent","posSGIG","posIGSE","nSylSG","nSGIG","nSylSE","nPhonIG","nPhonSG","posSTSG","nSylIG","nPhonSE","posSTFinSG","nSGSE","posSTIniSG","nIGSE"], "range": ["black","black","black","white","black","white","black","black","black","black","black","white","black","white","white"]}}
    }},
   {"data": {"values": [{}]},
    "mark": {"type": "text", "align": "left", "baseline": "middle", "fontSize": 14},
    "encoding": {"x": {"datum": 200, "type": "quantitative"}, "y": {"datum": 17.22, "type": "quantitative"}, "text": {"value": "NEMID"}}}
  ]},
  {"data": {"name": "k"}, "transform": [{"filter": "datum.p === 'NEMID'"}],
   "layer": [
    {"mark": {"type": "text", "align": "right", "baseline": "middle", "fontSize": 8.5},
     "encoding": {"x": {"datum": 1797, "type": "quantitative"}, "y": {"field": "s", "type": "nominal", "axis": {"orient": "right", "labels": false, "ticks": false, "domain": false, "grid": false, "title": null}, "scale": {"type": "point", "domain": ["accent","posSGIG","posIGSE","nSylSG","nSGIG","nSylSE","nPhonIG","nPhonSG","posSTSG","nSylIG","nPhonSE","posSTFinSG","nSGSE","posSTIniSG","nIGSE"], "range": [9, 132], "padding": 0}}, "text": {"field": "s"}}},
    {"mark": {"type": "rule", "strokeWidth": 0.8, "color": "black"},
     "encoding": {"x": {"datum": 1812, "type": "quantitative"}, "x2": {"datum": 1965}, "y": {"field": "s", "type": "nominal", "axis": {"orient": "right", "labels": false, "ticks": false, "domain": false, "grid": false, "title": null}, "scale": {"type": "point", "domain": ["accent","posSGIG","posIGSE","nSylSG","nSGIG","nSylSE","nPhonIG","nPhonSG","posSTSG","nSylIG","nPhonSE","posSTFinSG","nSGSE","posSTIniSG","nIGSE"], "range": [9, 132], "padding": 0}},
      "strokeDash": {"field": "s", "type": "nominal", "legend": null, "scale": {"domain": ["accent","posSGIG","posIGSE","nSylSG","nSGIG","nSylSE","nPhonIG","nPhonSG","posSTSG","nSylIG","nPhonSE","posSTFinSG","nSGSE","posSTIniSG","nIGSE"], "range": [[1,0],[5,3],[1,2],[6,2,1,2],[3,2],[6,2,1,2,1,2],[1,3],[4,2,1,2],[2,2,6,2],[1,0],[5,3],[1,2],[6,2,1,2],[3,2],[6,2,1,2,1,2]]}}}},
    {"mark": {"type": "point", "stroke": "black", "strokeWidth": 0.8, "opacity": 1, "size": 20},
     "encoding": {"x": {"datum": 1886, "type": "quantitative"}, "y": {"field": "s", "type": "nominal", "axis": {"orient": "right", "labels": false, "ticks": false, "domain": false, "grid": false, "title": null}, "scale": {"type": "point", "domain": ["accent","posSGIG","posIGSE","nSylSG","nSGIG","nSylSE","nPhonIG","nPhonSG","posSTSG","nSylIG","nPhonSE","posSTFinSG","nSGSE","posSTIniSG","nIGSE"], "range": [9, 132], "padding": 0}},
      "shape": {"field": "s", "type": "nominal", "legend": null, "scale": {"domain": ["accent","posSGIG","posIGSE","nSylSG","nSGIG","nSylSE","nPhonIG","nPhonSG","posSTSG","nSylIG","nPhonSE","posSTFinSG","nSGSE","posSTIniSG","nIGSE"], "range": ["M-1,0L1,0M0,-1L0,1","M-1,-1L1,1M-1,1L1,-1","square","square","square","circle","circle","triangle-up","triangle-up","triangle-down","triangle-down","diamond","diamond","circle","circle"]}},
      "fill": {"field": "s", "type": "nominal", "legend": null, "scale": {"domain": ["accent","posSGIG","posIGSE","nSylSG","nSGIG","nSylSE","nPhonIG","nPhonSG","posSTSG","nSylIG","nPhonSE","posSTFinSG","nSGSE","posSTIniSG","nIGSE"], "range": ["black","black","black","white","black","white","black","black","black","black","black","white","black","white","white"]}}}}
   ]}
 ],
 "resolve": {"scale": {"y": "independent"}}
},
{
 "width": 405, "height": 280,
 "layer": [
  {"layer": [
   {"data": {"name": "d"}, "transform": [{"filter": "datum.p === 'BD'"}],
    "mark": {"type": "line", "clip": true, "strokeWidth": 0.8, "color": "black"},
    "encoding": {
     "x": {"field": "x", "type": "quantitative", "scale": {"domain": [0, 2000], "nice": false}, "axis": {"values": [0,200,400,600,800,1000,1200,1400,1600,1800,2000], "format": "d", "title": "Number of Classes", "titlePadding": 5}},
     "y": {"field": "y", "type": "quantitative", "scale": {"domain": [11, 18], "nice": false, "zero": false}, "axis": {"values": [11,12,13,14,15,16,17,18], "tickCount": 8, "format": "d", "title": "RMSE(Hz)", "grid": true, "gridDash": [1,2], "gridColor": "#777", "labelOverlap": false, "titlePadding": 6}},
     "strokeDash": {"field": "s", "type": "nominal", "legend": null, "scale": {"domain": ["accent","posSGIG","posIGSE","nSylSG","nSGIG","nSylSE","nPhonSG","posSTSG","nPhonSE","nSylIG","posSTFinSG","nPhonIG","posSTIniSG","nIGSE","SGBorder"], "range": [[1,0],[5,3],[1,2],[6,2,1,2],[3,2],[6,2,1,2,1,2],[1,3],[4,2,1,2],[2,2,6,2],[1,0],[5,3],[1,2],[6,2,1,2],[3,2],[6,2,1,2,1,2]]}}
    }},
   {"data": {"name": "d"}, "transform": [{"filter": "datum.p === 'BD'"}],
    "mark": {"type": "point", "clip": true, "stroke": "black", "strokeWidth": 0.8, "opacity": 1, "size": 20},
    "encoding": {
     "x": {"field": "x", "type": "quantitative"},
     "y": {"field": "y", "type": "quantitative"},
     "shape": {"field": "s", "type": "nominal", "legend": null, "scale": {"domain": ["accent","posSGIG","posIGSE","nSylSG","nSGIG","nSylSE","nPhonSG","posSTSG","nPhonSE","nSylIG","posSTFinSG","nPhonIG","posSTIniSG","nIGSE","SGBorder"], "range": ["M-1,0L1,0M0,-1L0,1","M-1,-1L1,1M-1,1L1,-1","square","square","square","circle","circle","triangle-up","triangle-up","triangle-down","triangle-down","diamond","diamond","circle","circle"]}},
     "fill": {"field": "s", "type": "nominal", "legend": null, "scale": {"domain": ["accent","posSGIG","posIGSE","nSylSG","nSGIG","nSylSE","nPhonSG","posSTSG","nPhonSE","nSylIG","posSTFinSG","nPhonIG","posSTIniSG","nIGSE","SGBorder"], "range": ["black","black","black","white","black","white","black","black","black","black","black","white","black","white","black"]}}
    }},
   {"data": {"values": [{}]},
    "mark": {"type": "text", "align": "left", "baseline": "middle", "fontSize": 14},
    "encoding": {"x": {"datum": 200, "type": "quantitative"}, "y": {"datum": 17.22, "type": "quantitative"}, "text": {"value": "BD"}}}
  ]},
  {"data": {"name": "k"}, "transform": [{"filter": "datum.p === 'BD'"}],
   "layer": [
    {"mark": {"type": "text", "align": "right", "baseline": "middle", "fontSize": 8.5},
     "encoding": {"x": {"datum": 1797, "type": "quantitative"}, "y": {"field": "s", "type": "nominal", "axis": {"orient": "right", "labels": false, "ticks": false, "domain": false, "grid": false, "title": null}, "scale": {"type": "point", "domain": ["accent","posSGIG","posIGSE","nSylSG","nSGIG","nSylSE","nPhonSG","posSTSG","nPhonSE","nSylIG","posSTFinSG","nPhonIG","posSTIniSG","nIGSE","SGBorder"], "range": [8, 131], "padding": 0}}, "text": {"field": "s"}}},
    {"mark": {"type": "rule", "strokeWidth": 0.8, "color": "black"},
     "encoding": {"x": {"datum": 1812, "type": "quantitative"}, "x2": {"datum": 1965}, "y": {"field": "s", "type": "nominal", "axis": {"orient": "right", "labels": false, "ticks": false, "domain": false, "grid": false, "title": null}, "scale": {"type": "point", "domain": ["accent","posSGIG","posIGSE","nSylSG","nSGIG","nSylSE","nPhonSG","posSTSG","nPhonSE","nSylIG","posSTFinSG","nPhonIG","posSTIniSG","nIGSE","SGBorder"], "range": [8, 131], "padding": 0}},
      "strokeDash": {"field": "s", "type": "nominal", "legend": null, "scale": {"domain": ["accent","posSGIG","posIGSE","nSylSG","nSGIG","nSylSE","nPhonSG","posSTSG","nPhonSE","nSylIG","posSTFinSG","nPhonIG","posSTIniSG","nIGSE","SGBorder"], "range": [[1,0],[5,3],[1,2],[6,2,1,2],[3,2],[6,2,1,2,1,2],[1,3],[4,2,1,2],[2,2,6,2],[1,0],[5,3],[1,2],[6,2,1,2],[3,2],[6,2,1,2,1,2]]}}}},
    {"mark": {"type": "point", "stroke": "black", "strokeWidth": 0.8, "opacity": 1, "size": 20},
     "encoding": {"x": {"datum": 1886, "type": "quantitative"}, "y": {"field": "s", "type": "nominal", "axis": {"orient": "right", "labels": false, "ticks": false, "domain": false, "grid": false, "title": null}, "scale": {"type": "point", "domain": ["accent","posSGIG","posIGSE","nSylSG","nSGIG","nSylSE","nPhonSG","posSTSG","nPhonSE","nSylIG","posSTFinSG","nPhonIG","posSTIniSG","nIGSE","SGBorder"], "range": [8, 131], "padding": 0}},
      "shape": {"field": "s", "type": "nominal", "legend": null, "scale": {"domain": ["accent","posSGIG","posIGSE","nSylSG","nSGIG","nSylSE","nPhonSG","posSTSG","nPhonSE","nSylIG","posSTFinSG","nPhonIG","posSTIniSG","nIGSE","SGBorder"], "range": ["M-1,0L1,0M0,-1L0,1","M-1,-1L1,1M-1,1L1,-1","square","square","square","circle","circle","triangle-up","triangle-up","triangle-down","triangle-down","diamond","diamond","circle","circle"]}},
      "fill": {"field": "s", "type": "nominal", "legend": null, "scale": {"domain": ["accent","posSGIG","posIGSE","nSylSG","nSGIG","nSylSE","nPhonSG","posSTSG","nPhonSE","nSylIG","posSTFinSG","nPhonIG","posSTIniSG","nIGSE","SGBorder"], "range": ["black","black","black","white","black","white","black","black","black","black","black","white","black","white","black"]}}}}
   ]}
 ],
 "resolve": {"scale": {"y": "independent"}}
}
],
"spacing": 8,
"resolve": {"scale": {"shape": "independent", "fill": "independent", "strokeDash": "independent"}}
}
